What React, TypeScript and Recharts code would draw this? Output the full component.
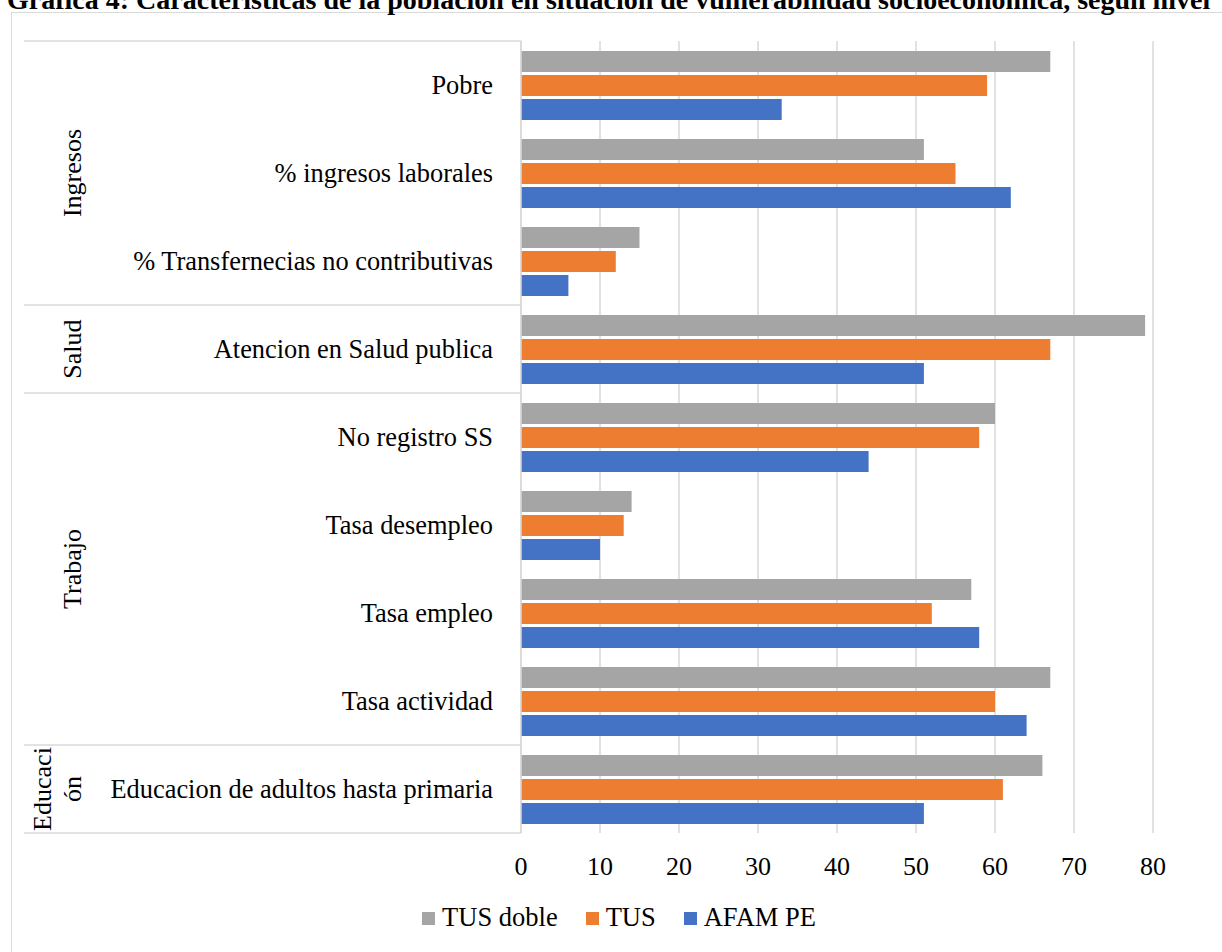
import { BarChart, Bar, XAxis, YAxis, CartesianGrid, Legend } from "recharts";

const categories = [
  "Pobre",
  "% ingresos laborales",
  "% Transfernecias no contributivas",
  "Atencion en Salud publica",
  "No registro SS",
  "Tasa desempleo",
  "Tasa empleo",
  "Tasa actividad",
  "Educacion de adultos hasta primaria",
];

// rows of the rotated outer category label (Educación is wrapped in two)
const groupLabels = [["Ingresos"], ["Salud"], ["Trabajo"], ["Educaci", "ón"]];
const groupSizes = [3, 1, 4, 1];

const seriesNames = ["TUS doble", "TUS", "AFAM PE"];
const tusDoble = [67, 51, 15, 79, 60, 14, 57, 67, 66];
const tus = [59, 55, 12, 67, 58, 13, 52, 60, 61];
const afamPe = [33, 62, 6, 51, 44, 10, 58, 64, 51];

const xTicks = [0, 10, 20, 30, 40, 50, 60, 70, 80];

const data = categories.map((label, i) => ({
  label,
  tusDoble: tusDoble[i],
  tus: tus[i],
  afamPe: afamPe[i],
}));

const FONT = '"Liberation Serif", "Times New Roman", serif';
const GRID = "#d9d9d9";

const WIDTH = 1222;
const HEIGHT = 952;
const MARGIN = { top: 41, right: 69, bottom: 69, left: 0 };
const X_AXIS_H = 50;
const Y_AXIS_W = 521;
const PLOT_H = HEIGHT - MARGIN.top - MARGIN.bottom - X_AXIS_H;
const BAND = PLOT_H / categories.length;

// first category index of every group
const groupStarts = groupSizes.map((_, g) =>
  groupSizes.slice(0, g).reduce((a, b) => a + b, 0)
);

function CategoryTick(props: any) {
  const { x, y, payload, index } = props;
  const top = y - BAND / 2;
  const g = groupStarts.indexOf(index);
  const isLast = index === categories.length - 1;

  let group = null;
  if (g >= 0) {
    const rows = groupLabels[g];
    const cy = top + (groupSizes[g] * BAND) / 2;
    const baseX = 81;
    group = (
      <g>
        <line x1={24} x2={x + 8} y1={top} y2={top} stroke={GRID} strokeWidth={1.5} />
        {rows.map((row, r) => {
          const bx = baseX - (rows.length - 1 - r) * 30;
          return (
            <text
              key={r}
              x={bx}
              y={cy}
              transform={`rotate(-90, ${bx}, ${cy})`}
              textAnchor="middle"
              fontFamily={FONT}
              fontSize={26}
              fill="#000"
            >
              {row}
            </text>
          );
        })}
      </g>
    );
  }

  return (
    <g>
      {group}
      {isLast && (
        <line x1={24} x2={x + 8} y1={top + BAND} y2={top + BAND} stroke={GRID} strokeWidth={1.5} />
      )}
      <text
        x={493}
        y={y}
        dy="0.35em"
        textAnchor="end"
        fontFamily={FONT}
        fontSize={26.4}
        fill="#000"
      >
        {payload.value}
      </text>
    </g>
  );
}

function ValueTick(props: any) {
  const { x, y, payload } = props;
  return (
    <text x={x} y={y + 42} textAnchor="middle" fontFamily={FONT} fontSize={26} fill="#000">
      {payload.value}
    </text>
  );
}

function LegendContent(props: any) {
  const items = [...(props.payload || [])].sort(
    (a: any, b: any) => seriesNames.indexOf(a.value) - seriesNames.indexOf(b.value)
  );
  return (
    <div
      style={{
        display: "flex",
        justifyContent: "center",
        alignItems: "center",
        fontFamily: FONT,
        fontSize: 26.5,
        lineHeight: "30px",
        color: "#000",
      }}
    >
      {items.map((item: any, i: number) => (
        <div
          key={i}
          style={{ display: "flex", alignItems: "center", marginRight: i < items.length - 1 ? 28 : 0 }}
        >
          <span
            style={{
              display: "inline-block",
              width: 13,
              height: 13,
              background: item.color,
              marginRight: 7,
              marginTop: 2,
            }}
          />
          <span>{item.value}</span>
        </div>
      ))}
    </div>
  );
}

export default function App() {
  return (
    <div
      style={{
        position: "fixed",
        left: 0,
        top: 0,
        width: WIDTH,
        height: HEIGHT,
        overflow: "hidden",
        background: "#fff",
      }}
    >
      <div
        style={{
          position: "absolute",
          left: 11,
          top: 12,
          width: 1300,
          height: 1000,
          border: `1.5px solid ${GRID}`,
        }}
      />
      <div
        style={{
          position: "absolute",
          left: 7,
          top: -14,
          whiteSpace: "nowrap",
          fontFamily: FONT,
          fontWeight: "bold",
          fontSize: 28,
          lineHeight: "28px",
          color: "#000",
        }}
      >
        Gráfica 4: Características de la población en situación de vulnerabilidad socioeconómica, según nivel
      </div>
      <div style={{ position: "absolute", left: 0, top: 0 }}>
        <BarChart
          width={WIDTH}
          height={HEIGHT}
          data={data}
          layout="vertical"
          margin={MARGIN}
          barSize={21}
          barGap={3}
        >
          <CartesianGrid horizontal={false} stroke={GRID} strokeWidth={1.5} />
          <XAxis
            type="number"
            domain={[0, 80]}
            ticks={xTicks}
            axisLine={false}
            tickLine={false}
            tickSize={0}
            tickMargin={0}
            height={X_AXIS_H}
            interval={0}
            tick={<ValueTick />}
          />
          <YAxis
            type="category"
            dataKey="label"
            width={Y_AXIS_W}
            axisLine={{ stroke: GRID, strokeWidth: 1.5 }}
            tickLine={false}
            interval={0}
            tick={<CategoryTick />}
          />
          <Legend
            layout="horizontal"
            align="center"
            verticalAlign="middle"
            wrapperStyle={{ top: 902, left: 8, width: WIDTH }}
            content={<LegendContent />}
          />
          <Bar dataKey="tusDoble" name={seriesNames[0]} fill="#A5A5A5" isAnimationActive={false} />
          <Bar dataKey="tus" name={seriesNames[1]} fill="#ED7D31" isAnimationActive={false} />
          <Bar dataKey="afamPe" name={seriesNames[2]} fill="#4472C4" isAnimationActive={false} />
        </BarChart>
      </div>
    </div>
  );
}
